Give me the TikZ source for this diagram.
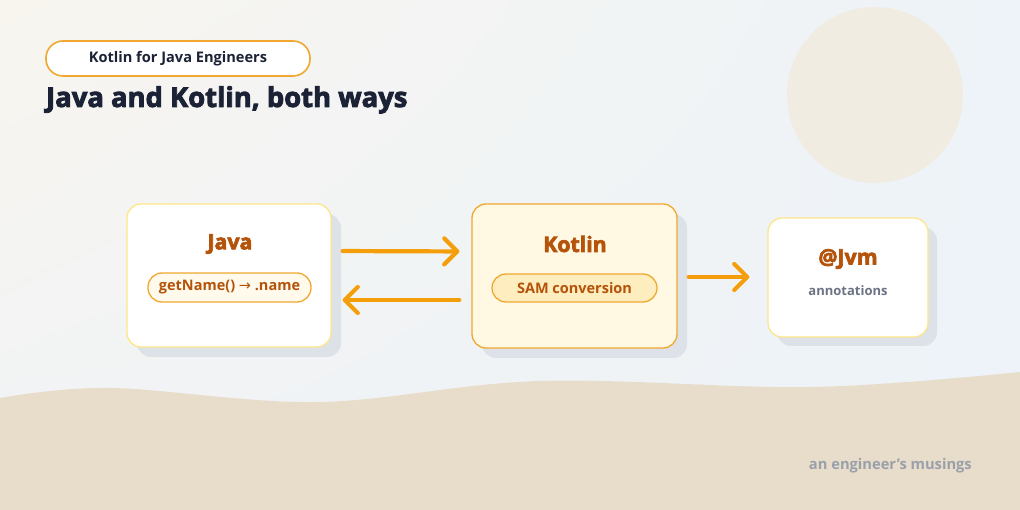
\documentclass[tikz,border=0pt]{standalone}
\usepackage{fontspec}
\setmainfont{Open Sans}
\newfontfamily\blackfont[BoldFeatures={FakeBold=3}]{Open Sans}
\newfontfamily\arrowfont{DejaVu Sans}
\usetikzlibrary{arrows.meta,shadings}
\definecolor{bgwarm}{HTML}{F8F5EF}
\definecolor{bgblue}{HTML}{EDF3F8}
\definecolor{bgmid}{HTML}{F0F3F5}
\definecolor{sun}{HTML}{F1ECE1}
\definecolor{sand}{HTML}{E8DCCA}
\definecolor{amberA}{HTML}{F59E0B}
\definecolor{amberB}{HTML}{F0A830}
\definecolor{amberC}{HTML}{FDE68A}
\definecolor{amberBG}{HTML}{FFF8E3}
\definecolor{amberPill}{HTML}{FEEDBE}
\definecolor{javaPill}{HTML}{FFFAEC}
\definecolor{brownT}{HTML}{B45309}
\definecolor{ink}{HTML}{1C2236}
\definecolor{slateT}{HTML}{6B7385}
\definecolor{footT}{HTML}{9AA0AA}
\definecolor{shadowC}{HTML}{DDE2E8}
\tikzset{
  card/.style={rounded corners=14pt, line width=1.3pt, inner sep=0pt},
  cardshadow/.style={fill=shadowC, rounded corners=14pt, draw=none},
  pill/.style={rounded corners=14pt, line width=1.3pt, inner sep=0pt, font=\bfseries\fontsize{14.5}{18}\selectfont, text=brownT},
  heading/.style={font=\blackfont\bfseries\fontsize{21.3}{24}\selectfont, text=brownT},
  arr/.style={draw=amberA, line width=4.2pt, line cap=round, line join=round,
    -{Straight Barb[length=13pt, width=26pt, line width=4.2pt, round]}},
}
\begin{document}
\begin{tikzpicture}[x=1pt,y=-1pt]
\useasboundingbox (0,0) rectangle (1020,510);
% background
\shade[upper left=bgwarm, upper right=bgblue, lower left=bgmid, lower right=bgblue] (0,0) rectangle (1020,510);
\fill[sun] (875,95) circle (88);
\fill[sand] plot[smooth, tension=0.6] coordinates {(0,398) (110,388) (318,402) (540,381) (812,387) (1020,372)} -- (1020,510) -- (0,510) -- cycle;
% tag and title
\node[draw=amberB, fill=white, line width=1.6pt, rounded corners=17pt, minimum width=264pt, minimum height=35pt, inner sep=0pt,
  font=\bfseries\fontsize{14.6}{16}\selectfont, text=ink] (tag) at (178,58.5) {Kotlin for Java Engineers};
\node[anchor=base west, inner sep=0pt, font=\blackfont\bfseries\fontsize{27.4}{30}\selectfont, text=ink] (title) at (46,107) {Java and Kotlin, both ways};
% shadows
\fill[cardshadow] (137,214) rectangle (341,357);
\fill[cardshadow] (482,214) rectangle (687,358);
\fill[cardshadow] (777,227) rectangle (937,346);
% cards
\node[card, draw=amberC, fill=white, minimum width=204pt, minimum height=143pt] (java) at (229,275.5) {};
\node[card, draw=amberB, fill=amberBG, minimum width=205pt, minimum height=144pt] (kotlin) at (574.5,276) {};
\node[card, draw=amberC, fill=white, minimum width=160pt, minimum height=119pt] (jvm) at (848,277.5) {};
% contents
\node[heading] (javaT) at (230,244) {Java};
\node[pill, draw=amberB, fill=javaPill, minimum width=163pt, minimum height=29pt] (javaP) at (229.5,287.5) {getName() {\arrowfont\mdseries→} .name};
\node[heading] (kotlinT) at (575,244) {Kotlin};
\node[pill, draw=amberB, fill=amberPill, minimum width=165pt, minimum height=28pt] (kotlinP) at (574.5,288) {SAM conversion};
\node[heading] (jvmT) at (848,259) {@Jvm};
\node[font=\bfseries\fontsize{13}{16}\selectfont, text=slateT] (jvmS) at (848,291) {annotations};
% connectors
\draw[arr, shorten <=11pt, shorten >=12pt] ([yshift=24.5pt]java.east) -- ([yshift=24.5pt]kotlin.west);
\draw[arr, shorten <=12pt, shorten >=11pt] ([yshift=-24pt]kotlin.west) -- ([yshift=-24.5pt]java.east);
\draw[arr, shorten <=11pt, shorten >=18pt] ([yshift=-1pt]kotlin.east) -- ([yshift=0.5pt]jvm.west);
% footer
\node[anchor=base east, inner sep=0pt, font=\bfseries\fontsize{14.7}{16}\selectfont, text=footT] (foot) at (972,469) {an engineer's musings};
\end{tikzpicture}
\end{document}
